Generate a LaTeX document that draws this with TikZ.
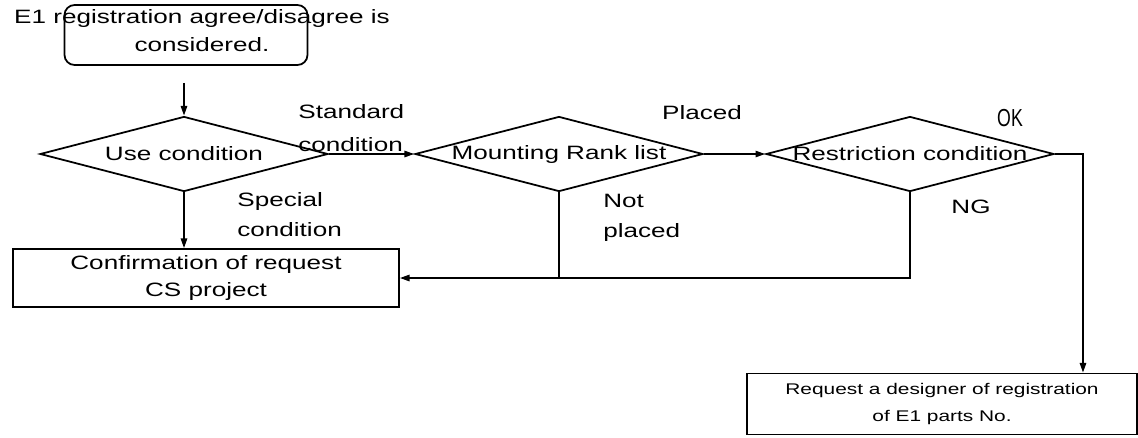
\documentclass[tikz,border=0pt]{standalone}
\usepackage{fontspec}
\setmainfont{Liberation Sans}[FakeStretch=1.35]
\newfontfamily\okfont{Liberation Sans}[FakeStretch=0.72]
\usepackage{tikz}
\usetikzlibrary{arrows.meta,positioning,shapes.geometric}

\begin{document}
\begin{tikzpicture}[x=0.02cm, y=-0.02cm,
  every node/.style={font=\fontsize{11}{17}\selectfont},
  startbox/.style={draw, line width=1pt, rounded corners=0.2cm, minimum
    width=4.86cm, minimum height=1.2cm},
  decision/.style={draw, line width=1pt, diamond, inner sep=0pt, minimum
    width=5.76cm, minimum height=1.5cm},
  procbox/.style={draw, line width=1pt, align=center},
  lab/.style={align=left, anchor=west, inner sep=0pt},
  arr/.style={-{Triangle[length=5.5pt, width=3.6pt]}, line width=1pt},
  link/.style={line width=1pt},
]
\useasboundingbox (0,0) rectangle (1138,437);
\node[startbox] (startbox) at (186,35) {};
\node[align=center, inner sep=0pt, font=\fontsize{11}{15.9}\selectfont] (start) at (202,31)
  {E1 registration agree/disagree is\\considered.};
\node[decision, label={center:Use condition}] (use) at (184,154) {};
\node[decision, label={center:Mounting Rank list}] (mount) at (559,154) {};
\node[decision, label={center:Restriction condition}] (restr) at (910,154) {};
\node[procbox, minimum width=7.72cm, minimum height=1.16cm,
  font=\fontsize{11}{15.5}\selectfont] (confirm) at (206,278)
  {Confirmation of request\\CS project};
\node[procbox, minimum width=7.8cm, minimum height=1.22cm,
  font=\fontsize{8.8}{15.3}\selectfont] (request) at (942,404)
  {Request a designer of registration\\of E1 parts No.};
\node[lab, font=\fontsize{11}{18.7}\selectfont] (stdlab) at (298,128) {Standard\\condition};
\node[lab] (speclab) at (237,215) {Special\\condition};
\node[lab] (notlab) at (603,218) {Not\\placed};
\node (placedlab) at (702,113) {Placed};
\node[font=\okfont\fontsize{14}{17}\selectfont] (oklab) at (1010,118) {OK};
\node (nglab) at (971,207) {NG};
\draw[arr, shorten <=0.34cm] (startbox.south -| use.north) -- (use.north);
\draw[arr] (use.east) -- (mount.west);
\draw[arr] (use.south) -- (use.south |- confirm.north);
\draw[arr] (mount.east) -- (restr.west);
\draw[arr] (mount.south) |- (confirm.east);
\draw[link] (restr.south) |- (mount.south |- confirm.east);
\draw[arr] (restr.east) -| ([xshift=2.82cm]request.north);
\end{tikzpicture}
\end{document}
